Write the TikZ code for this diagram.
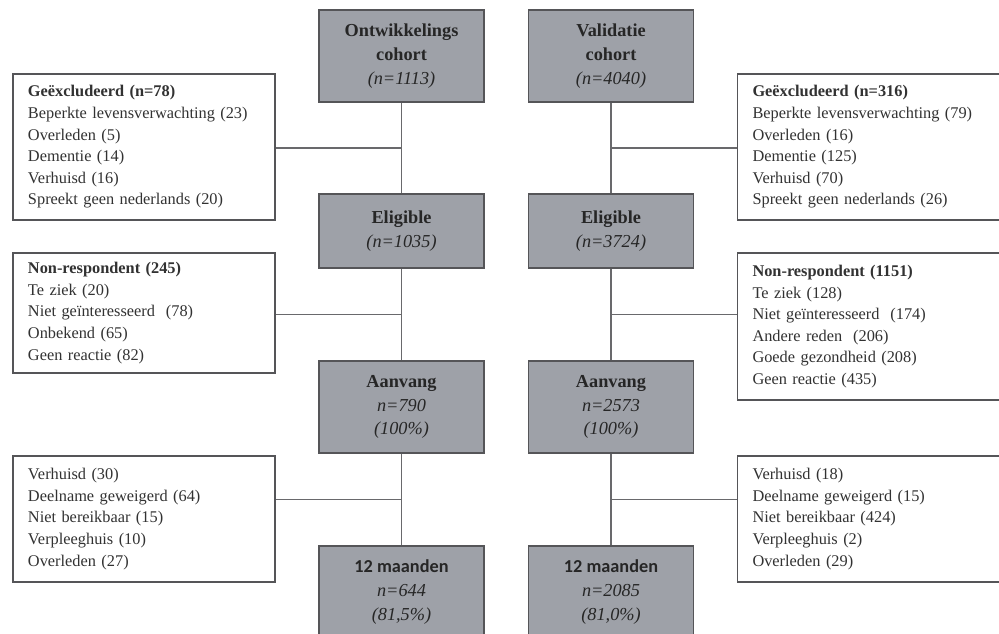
\documentclass[tikz,border=0pt]{standalone}
\usepackage{fontspec}
\setmainfont{Liberation Serif}
\newfontfamily\carlito{Carlito}
\usetikzlibrary{calc}
\definecolor{boxgray}{RGB}{158,161,168}
\definecolor{edgegray}{RGB}{85,85,88}
\definecolor{linegray}{RGB}{105,105,108}
\definecolor{textgray}{RGB}{50,50,50}
\begin{document}
\begin{tikzpicture}[x=0.02cm,y=-0.02cm]
    \tikzstyle{stage}=[rectangle,draw=edgegray,fill=boxgray,line width=1pt,
                       minimum width=165*0.02cm,inner sep=0pt,align=center,
                       font=\fontsize{10.4}{13.6}\selectfont,text=black!85]
    \tikzstyle{reason}=[rectangle,draw=edgegray,fill=white,line width=1pt,
                        text width=232*0.02cm,inner xsep=15*0.02cm,inner ysep=0pt,
                        align=left,font=\fontsize{9.3}{12.3}\selectfont,text=textgray]
    \tikzstyle{link}=[draw=linegray,line width=1pt]
    \useasboundingbox (0,0) rectangle (999,634);

    % gray stages, left column
    \node[stage,minimum height=92*0.02cm] (devcohort) at (401.5,56)
        {\textbf{Ontwikkelings}\\\textbf{cohort}\\\textit{(n=1113)}};
    \node[stage,minimum height=74*0.02cm] (develig) at (401.5,231)
        {\textbf{Eligible}\\\textit{(n=1035)}};
    \node[stage,minimum height=92*0.02cm] (devstart) at (401.5,407)
        {\textbf{Aanvang}\\\textit{n=790}\\\textit{(100\%)}};
    \node[stage,minimum height=92*0.02cm] (devyear) at (401.5,592)
        {{\carlito\bfseries 12 maanden}\\\textit{n=644}\\\textit{(81,5\%)}};

    % gray stages, right column
    \node[stage,minimum height=92*0.02cm] (valcohort) at (611,56)
        {\textbf{Validatie}\\\textbf{cohort}\\\textit{(n=4040)}};
    \node[stage,minimum height=74*0.02cm] (valelig) at (611,231)
        {\textbf{Eligible}\\\textit{(n=3724)}};
    \node[stage,minimum height=92*0.02cm] (valstart) at (611,407)
        {\textbf{Aanvang}\\\textit{n=2573}\\\textit{(100\%)}};
    \node[stage,minimum height=92*0.02cm] (valyear) at (611,592)
        {{\carlito\bfseries 12 maanden}\\\textit{n=2085}\\\textit{(81,0\%)}};

    % reasons, left
    \node[reason,minimum height=146*0.02cm] (devexcl) at (144,147)
        {\textbf{Geëxcludeerd (n=78)}\\Beperkte levensverwachting (23)\\Overleden (5)\\Dementie (14)\\Verhuisd (16)\\Spreekt geen nederlands (20)};
    \node[reason,minimum height=120*0.02cm] (devnon) at (144,313)
        {\textbf{Non-respondent (245)}\\Te ziek (20)\\Niet geïnteresseerd~ (78)\\Onbekend (65)\\Geen reactie (82)};
    \node[reason,minimum height=126*0.02cm] (devlost) at (144,519)
        {Verhuisd (30)\\Deelname geweigerd (64)\\Niet bereikbaar (15)\\Verpleeghuis (10)\\Overleden (27)};

    % reasons, right
    \node[reason,minimum height=146*0.02cm] (valexcl) at (868.5,147)
        {\textbf{Geëxcludeerd (n=316)}\\Beperkte levensverwachting (79)\\Overleden (16)\\Dementie (125)\\Verhuisd (70)\\Spreekt geen nederlands (26)};
    \node[reason,minimum height=147*0.02cm] (valnon) at (868.5,326.5)
        {\textbf{Non-respondent (1151)}\\Te ziek (128)\\Niet geïnteresseerd~ (174)\\Andere reden~ (206)\\Goede gezondheid (208)\\Geen reactie (435)};
    \node[reason,minimum height=126*0.02cm] (vallost) at (868.5,519)
        {Verhuisd (18)\\Deelname geweigerd (15)\\Niet bereikbaar (424)\\Verpleeghuis (2)\\Overleden (29)};

    % branch points
    \coordinate (devb1) at ($(devcohort.south)!0.5!(develig.north)$);
    \coordinate (devb2) at ($(develig.south)!0.5!(devstart.north)$);
    \coordinate (devb3) at ($(devstart.south)!0.5!(devyear.north)$);
    \coordinate (valb1) at ($(valcohort.south)!0.5!(valelig.north)$);
    \coordinate (valb2) at ($(valelig.south)!0.5!(valstart.north)$);
    \coordinate (valb3) at ($(valstart.south)!0.5!(valyear.north)$);

    \draw[link] (devcohort) -- (develig) (develig) -- (devstart) (devstart) -- (devyear);
    \draw[link] (valcohort) -- (valelig) (valelig) -- (valstart) (valstart) -- (valyear);
    \draw[link] (devb1) -- (devb1 -| devexcl.east)
                (devb2) -- (devb2 -| devnon.east)
                (devb3) -- (devb3 -| devlost.east);
    \draw[link] (valb1) -- (valb1 -| valexcl.west)
                (valb2) -- (valb2 -| valnon.west)
                (valb3) -- (valb3 -| vallost.west);
\end{tikzpicture}
\end{document}
